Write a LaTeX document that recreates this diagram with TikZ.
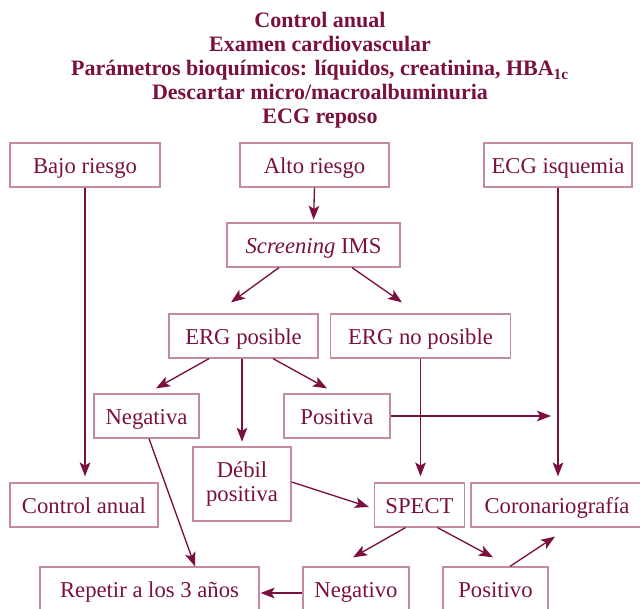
\documentclass[tikz,border=0pt]{standalone}
\usepackage{fontspec}
\setmainfont{Liberation Serif}
\usetikzlibrary{arrows.meta,calc}
\definecolor{mar}{HTML}{7A1040}
\definecolor{pinkb}{HTML}{C48AA3}
\begin{document}
\begin{tikzpicture}[x=0.75pt,y=-0.75pt,
  boxbase/.style={draw=pinkb, line width=0.9pt, text=mar, font=\fontsize{17}{20}\selectfont, inner sep=0pt, minimum height=33pt},
  box/.style={boxbase, text height=13pt, text depth=0.6pt},
  ttl/.style={text=mar, font=\fontsize{16.5}{18}\selectfont\bfseries, anchor=base, inner sep=0pt},
  arr/.style={draw=mar, line width=1pt, -{Stealth[length=10.5pt,width=8pt,inset=2.4pt]}}]
\useasboundingbox (0,0) rectangle (640,609);
\clip (0,0) rectangle (640,609);
% title
\node[ttl] (t1) at (320,27.7) {Control anual};
\node[ttl] (t2) at (320,51.7) {Examen cardiovascular};
\node[ttl] (t3) at (320,75.7) {Parámetros bioquímicos: líquidos, creatinina, HBA\textsubscript{1c}};
\node[ttl] (t4) at (320,99.7) {Descartar micro/macroalbuminuria};
\node[ttl] (t5) at (320,123.7) {ECG reposo};
% boxes
\node[box, minimum width=112.5pt] (bajo) at (85,165) {Bajo riesgo};
\node[box, minimum width=111.75pt] (alto) at (314.5,165) {Alto riesgo};
\node[box, minimum width=111pt] (ecg) at (558,165) {ECG isquemia};
\node[box, minimum width=129.75pt] (scr) at (313.5,245) {\textit{Screening} IMS};
\node[box, minimum width=111.75pt] (ergp) at (243.5,336) {ERG posible};
\node[box, minimum width=135pt] (ergnp) at (420.5,336) {ERG no posible};
\node[box, minimum width=78.75pt] (neg) at (146.5,416) {Negativa};
\node[box, minimum width=79.5pt] (pos) at (337,416) {Positiva};
\node[boxbase, minimum width=73.5pt, minimum height=55.5pt, align=center] (debil) at (242,484) {\raisebox{-2pt}{Débil}\\positiva};
\node[box, minimum width=111pt] (ctrl) at (84,505) {Control anual};
\node[box, minimum width=67.5pt] (spect) at (419.5,505) {SPECT};
\node[box, minimum width=129pt] (coro) at (557,505) {Coronariografía};
\node[box, minimum width=164.25pt] (rep) at (149.5,589) {Repetir a los 3 años};
\node[box, minimum width=79.5pt] (negv) at (356,589) {Negativo};
\node[box, minimum width=78.75pt] (posv) at (495.5,589) {Positivo};
\coordinate (pend) at (551,416);
% connectors
\draw[arr, shorten >=2pt] (alto.south) -- (scr.north);
\draw[arr] ($(scr.south)+(-34.5,0)$) -- ($(ergp.north)+(-12.5,-11)$);
\draw[arr] ($(scr.south)+(38.5,0)$) -- ($(ergnp.north)+(-18.5,-11)$);
\draw[arr, shorten >=4.5pt] (ecg.south) -- (coro.north -| ecg.south);
\draw[arr, shorten >=4.5pt] (bajo.south) -- (ctrl.north -| bajo.south);
\draw[arr] ($(ergp.south)+(-34.5,0)$) -- ($(neg.north)+(9.5,-5)$);
\draw[arr, shorten >=3.5pt] (ergp.south -| debil.north) -- (debil.north);
\draw[arr] ($(ergp.south)+(29.5,0)$) -- ($(pos.north)+(-10,-5)$);
\draw[arr, shorten >=4.5pt] (ergnp.south) -- (spect.north -| ergnp.south);
\draw[arr] (pos.east) -- (pend);
\draw[arr] ($(neg.south)+(2.5,0)$) -- ($(rep.north)+(45.5,0)$);
\draw[arr] ($(debil.east)+(0,-2)$) -- ($(spect.west)+(-5,2)$);
\draw[arr] ($(spect.south)+(-14,0)$) -- ($(negv.north)+(-3,-9)$);
\draw[arr] ($(spect.south)+(18,0)$) -- ($(posv.north)+(-2.5,-9)$);
\draw[arr] ($(negv.west)+(0,4)$) -- ($(rep.east)+(1,4)$);
\draw[arr] ($(posv.north)+(14.5,0)$) -- ($(coro.south)+(-2,9)$);
\end{tikzpicture}
\end{document}
